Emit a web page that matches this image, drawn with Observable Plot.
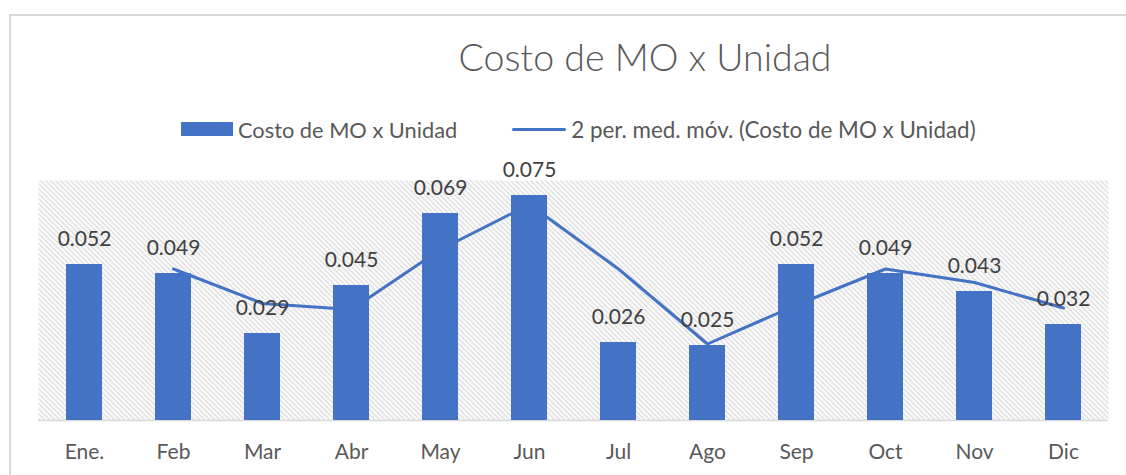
<!DOCTYPE html>
<html>
<head>
<meta charset="utf-8">
<script src="https://cdn.jsdelivr.net/npm/d3@7"></script>
<script src="https://cdn.jsdelivr.net/npm/@observablehq/plot@0.6"></script>
<style>
  html, body { margin: 0; padding: 0; background: #fff; }
  #wrap { position: relative; width: 1126px; height: 475px; overflow: hidden; font-family: Lato, "Noto Sans", sans-serif; }
  #border { position: absolute; left: 9px; top: 14px; width: 1200px; height: 500px; border-left: 2px solid #d9d9d9; border-top: 2px solid #d9d9d9; box-sizing: border-box; }
  #title { position: absolute; left: 0; width: 1290px; top: 33px; text-align: center; font-size: 37.5px; font-weight: 300; color: #595959; line-height: 48px; white-space: nowrap; }
  #legend { position: absolute; top: 116px; left: 181px; height: 26px; display: flex; align-items: center; font-size: 21.8px; color: #595959; white-space: nowrap; }
  #legend .s2 { font-size: 22.4px; }
  .sw-bar { width: 52px; height: 14px; background: #4472C4; margin-right: 5px; }
  .sw-line { width: 54px; height: 3px; background: #4472C4; margin-left: 55px; margin-right: 5px; border-radius: 2px; }
  #chart { position: absolute; left: 0; top: 140px; }
</style>
</head>
<body>
<div id="wrap">
  <div id="border"></div>
  <div id="title">Costo de MO x Unidad</div>
  <div id="legend">
    <div class="sw-bar"></div><span>Costo de MO x Unidad</span>
    <div class="sw-line"></div><span class="s2">2 per. med. móv. (Costo de MO x Unidad)</span>
  </div>
  <div id="chart"></div>
</div>
<script>
const months = ["Ene.", "Feb", "Mar", "Abr", "May", "Jun", "Jul", "Ago", "Sep", "Oct", "Nov", "Dic"];
const costo = [0.052, 0.049, 0.029, 0.045, 0.069, 0.075, 0.026, 0.025, 0.052, 0.049, 0.043, 0.032];
const mediaMovil = [null, 0.0505, 0.039, 0.037, 0.057, 0.072, 0.0505, 0.0255, 0.0385, 0.0505, 0.046, 0.0375];

const data = months.map((m, i) => ({ mes: m, costo: costo[i], mm: mediaMovil[i] }));
const blue = "#4472C4";

const plot = Plot.plot({
  width: 1126,
  height: 335,
  marginTop: 40,
  marginBottom: 55,
  marginLeft: 38,
  marginRight: 18,
  style: { fontFamily: "Lato, 'Noto Sans', sans-serif", background: "transparent", overflow: "visible" },
  x: { domain: months, paddingInner: 0.6, paddingOuter: 0.3, label: null },
  y: { domain: [0, 0.08], axis: null },
  marks: [
    Plot.frame({ fill: "url(#hatch)", stroke: "none" }),
    Plot.ruleY([0], { stroke: "#d9d9d9", strokeWidth: 1.5 }),
    Plot.barY(data, { x: "mes", y: "costo", fill: blue }),
    Plot.line(data, { x: "mes", y: "mm", stroke: blue, strokeWidth: 3, defined: d => d.mm != null }),
    Plot.text(data, { x: "mes", y: "costo", text: d => d.costo.toFixed(3), dy: -25, fontSize: 21, fill: "#404040" }),
    Plot.axisX({ tickSize: 0, tickPadding: 24, fontSize: 21, color: "#595959", label: null })
  ]
});

const svg = d3.select(plot);
const defs = svg.insert("defs", ":first-child");
const pat = defs.append("pattern")
  .attr("id", "hatch")
  .attr("patternUnits", "userSpaceOnUse")
  .attr("width", 5).attr("height", 5);
pat.append("rect").attr("width", 5).attr("height", 5).attr("fill", "#ffffff");
pat.append("path")
  .attr("d", "M0,0 L5,5 M-1,4 L1,6 M4,-1 L6,1")
  .attr("stroke", "#d0d0d0").attr("stroke-width", 1.2);

document.getElementById("chart").appendChild(plot);
</script>
</body>
</html>
